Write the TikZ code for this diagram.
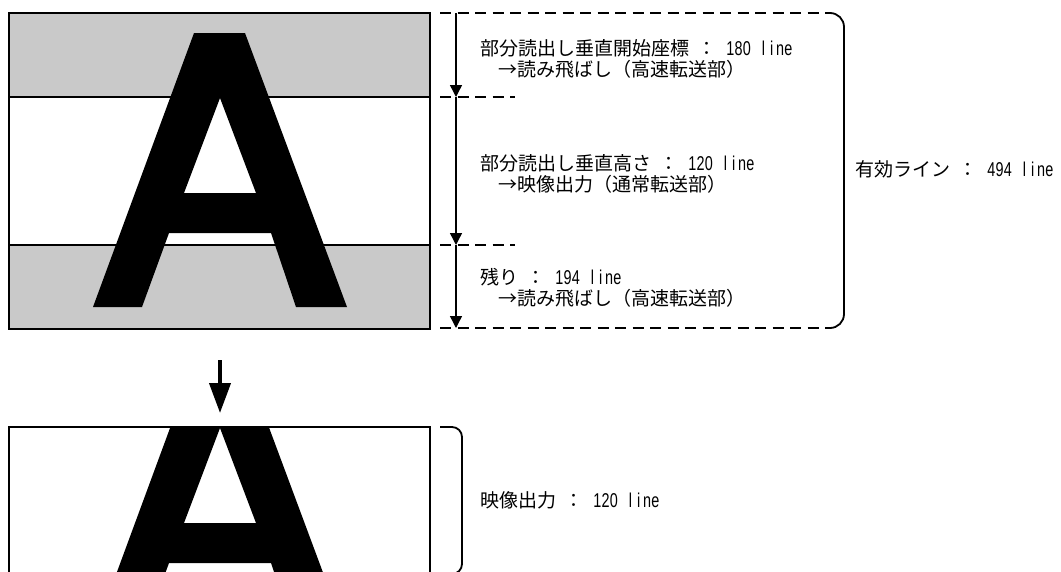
\documentclass[tikz,border=0pt]{standalone}
\usepackage{fontspec}
\newfontfamily\jp{Noto Sans CJK JP}
\newfontfamily\lat[FakeStretch=0.72]{Liberation Sans}
\usetikzlibrary{arrows.meta}
\makeatletter
\newcommand{\mono}[1]{\@tfor\mychr:=#1\do{\makebox[8.3pt]{\mychr}}}
\makeatother
\newcommand{\lv}[1]{{\lat\fontsize{20}{22}\selectfont\mono{#1}\makebox[8.3pt]{}\mono{line}}}
\newcommand{\csep}{\hspace{8pt}：\hspace{10pt}}
\newcommand{\Apath}{(194,33) -- (245,33) -- (347,307) -- (296,307) -- (271,233) -- (169,233) -- (142,307) -- (93,307) -- cycle (220,98) -- (256,193) -- (184,193) -- cycle}
\tikzset{
  lbl/.style={anchor=west, inner sep=0pt, font=\jp\fontsize{19}{21}\selectfont},
  band/.style={fill=black!21},
  frame/.style={draw=black, line width=1.4pt},
  dline/.style={draw=black, line width=1.8pt, dash pattern=on 11pt off 6.5pt},
  bracket/.style={draw=black, line width=1.8pt, rounded corners=14pt},
  meas/.style={draw=black, line width=1.4pt, -{Triangle[width=12pt,length=12pt]}},
  bigarrow/.style={draw=black, line width=4pt, -{Triangle[width=21pt,length=30pt]}},
}
\begin{document}
\begin{tikzpicture}[x=1pt,y=-1pt]
\useasboundingbox (0,0) rectangle (1061,571);
\clip (0,0) rectangle (1061,571);
% top image
\fill[band] (9,13) rectangle (430,97);
\fill[band] (9,245) rectangle (430,329);
\draw[line width=1.1pt] (9,97) -- (430,97);
\draw[line width=1.1pt] (9,245) -- (430,245);
\fill[black, even odd rule] \Apath;
\draw[frame] (9,13) rectangle (430,329);
% dashed levels
\coordinate (m0) at (456,13);
\coordinate (m1) at (456,97);
\coordinate (m2) at (456,245);
\coordinate (m3) at (456,328);
\draw[dline] (440,13) -- (828,13);
\draw[dline] (440,97) -- (515,97);
\draw[dline] (440,245) -- (515,245);
\draw[dline] (440,328) -- (828,328);
\draw[bracket] (826,13) -- (844,13) -- (844,328) -- (826,328);
\draw[meas] (m0) -- (m1);
\draw[meas] (m1) -- (m2);
\draw[meas] (m2) -- (m3);
% texts
\node[lbl] (t1a) at (480,48) {部分読出し垂直開始座標\csep\lv{180}};
\node[lbl] (t1b) at (498,69) {→読み飛ばし（高速転送部）};
\node[lbl] (t2a) at (480,163) {部分読出し垂直高さ\csep\lv{120}};
\node[lbl] (t2b) at (498,184) {→映像出力（通常転送部）};
\node[lbl] (t3a) at (480,277) {残り\csep\lv{194}};
\node[lbl] (t3b) at (498,298) {→読み飛ばし（高速転送部）};
\node[lbl] (tall) at (855,169) {有効ライン\csep\lv{494}};
% arrow down
\coordinate (a0) at (220,360);
\coordinate (a1) at (220,413);
\draw[bigarrow] (a0) -- (a1);
% bottom image
\begin{scope}
\clip (9,427) rectangle (430,575);
\fill[black, even odd rule, shift={(0,330)}] \Apath;
\end{scope}
\draw[frame] (9,427) rectangle (430,575);
\draw[bracket, rounded corners=10pt] (440,427) -- (462,427) -- (462,574) -- (440,574);
\node[lbl] (tout) at (480,500) {映像出力\csep\lv{120}};
\end{tikzpicture}
\end{document}
